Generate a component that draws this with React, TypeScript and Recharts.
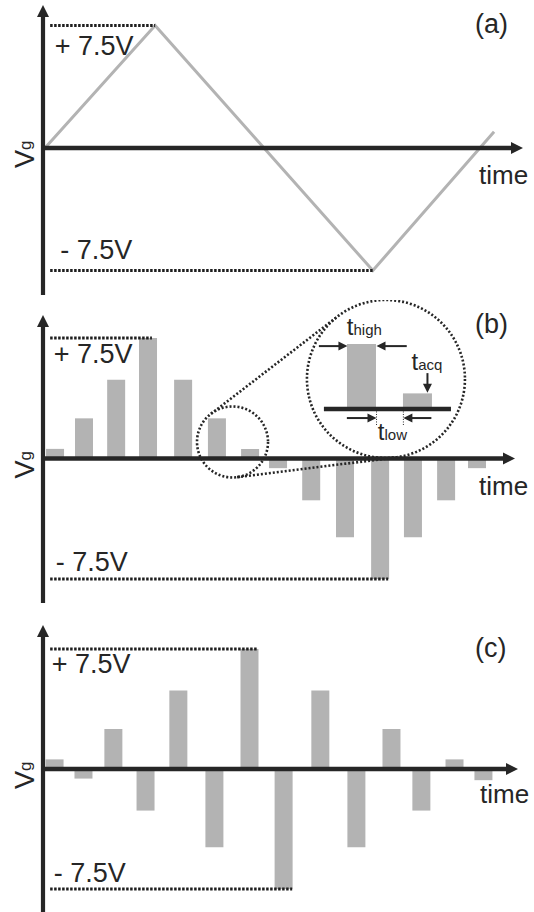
import React from "react";
import { ComposedChart, Line, Bar, XAxis, YAxis, ReferenceLine, ReferenceDot, Label } from "recharts";

const INK = "#262626";
const GREY = "#b3b3b3";
const FONT = "'Liberation Sans', Arial, Helvetica, sans-serif";
const WIDTH = 534;

// sweep limits, volts
const V_MAX = 7.5;
const levelText = ["+ 7.5V", "- 7.5V"];
const panelTags = ["(a)", "(b)", "(c)"];
const timeText = "time";

// (a) triangular gate sweep, corner points (time in pulse periods)
const sweepTime = [0.06, 3.45, 10.15, 13.88];
const sweepVg = [0, 7.5, -7.5, 1.0];

// (b) pulsed sweep that follows the triangle
const pulseTimeB = [0.37, 1.26, 2.25, 3.23, 4.31, 5.35, 6.37, 7.23, 8.25, 9.29, 10.37, 11.38, 12.4, 13.35];
const pulseVgB = [0.6, 2.5, 4.9, 7.5, 4.9, 2.5, 0.6, -0.6, -2.6, -4.9, -7.5, -4.9, -2.6, -0.6];

// (c) pulses of alternating sign
const pulseTimeC = [0.37, 1.26, 2.18, 3.17, 4.18, 5.29, 6.37, 7.42, 8.55, 9.66, 10.74, 11.66, 12.68, 13.57];
const pulseVgC = [0.6, -0.6, 2.5, -2.6, 4.9, -4.9, 7.5, -7.5, 4.9, -4.9, 2.5, -2.6, 0.6, -0.7];

// magnified pair of pulses from (b)
const detailTime = [1, 2];
const detailVg = [pulseVgB[5], pulseVgB[6]];
const detailSub = ["high", "acq", "low"];

const dotted = { stroke: "#1e1e1e", strokeWidth: 3, strokeDasharray: "2.5 1.5" };
const ring = { stroke: INK, strokeWidth: 2.6, strokeDasharray: "2 2" };

// thick axis line with a filled arrow head at its far end
function axisShape(props: any) {
  const x1 = Number(props.x1), y1 = Number(props.y1), x2 = Number(props.x2), y2 = Number(props.y2);
  const head = 12;
  const half = 6;
  if (Math.abs(x1 - x2) < 1) {
    const top = Math.min(y1, y2);
    const bottom = Math.max(y1, y2);
    return (
      <g>
        <line x1={x1} x2={x1} y1={top + head - 1} y2={bottom} stroke={INK} strokeWidth={4.2} />
        <polygon points={`${x1},${top} ${x1 - half},${top + head} ${x1 + half},${top + head}`} fill={INK} />
      </g>
    );
  }
  const left = Math.min(x1, x2);
  const right = Math.max(x1, x2);
  return (
    <g>
      <line x1={left} x2={right - head + 1} y1={y1} y2={y1} stroke={INK} strokeWidth={4.5} />
      <polygon points={`${right},${y1} ${right - head},${y1 - half} ${right - head},${y1 + half}`} fill={INK} />
    </g>
  );
}

// thin pointer, head at the second point of the segment
function pointerShape(props: any) {
  const x1 = Number(props.x1), y1 = Number(props.y1), x2 = Number(props.x2), y2 = Number(props.y2);
  const len = Math.hypot(x2 - x1, y2 - y1) || 1;
  const ux = (x2 - x1) / len;
  const uy = (y2 - y1) / len;
  const head = 9;
  const half = 4.5;
  const bx = x2 - ux * head;
  const by = y2 - uy * head;
  return (
    <g>
      <line x1={x1} y1={y1} x2={bx + ux} y2={by + uy} stroke={INK} strokeWidth={2} />
      <polygon
        points={`${x2},${y2} ${bx - uy * half},${by + ux * half} ${bx + uy * half},${by - ux * half}`}
        fill={INK}
      />
    </g>
  );
}

const textAt = (text: string, dx: number, dy: number, size = 27) => (p: any) => {
  const vb = p.viewBox || { x: 0, y: 0 };
  return (
    <text x={vb.x + dx} y={vb.y + dy} fontSize={size} fill={INK} fontFamily={FONT}>
      {text}
    </text>
  );
};

const rightTextAt = (text: string, dx: number, dy: number, size = 27) => (p: any) => {
  const vb = p.viewBox || { x: 0, y: 0, width: 0 };
  return (
    <text x={vb.x + vb.width + dx} y={vb.y + dy} fontSize={size} fill={INK} fontFamily={FONT}>
      {text}
    </text>
  );
};

const vgAt = (dx: number, dy: number) => (p: any) => {
  const vb = p.viewBox || { x: 0, y: 0 };
  return (
    <text transform={`translate(${vb.x + dx},${vb.y + dy}) rotate(-90)`} fontSize={27} fill={INK} fontFamily={FONT}>
      V<tspan fontSize={17} dy={-3}>g</tspan>
    </text>
  );
};

const subAt = (sub: string, dx: number, dy: number) => (p: any) => {
  const vb = p.viewBox || { x: 0, y: 0 };
  return (
    <text x={vb.x + dx} y={vb.y + dy} fill={INK} fontFamily={FONT} fontSize={24}>
      t<tspan fontSize={15}>{sub}</tspan>
    </text>
  );
};

type PanelProps = {
  height: number;
  margin: { top: number; right: number; bottom: number; left: number };
  xMax: number;
  yDomain: [number, number];
  data: { t: number; vg: number }[];
  levelEnd: [number, number];
  plusAt: [number, number];
  minusAt: [number, number];
  timeAt: [number, number];
  tag: string;
  tagAt: [number, number];
  children?: React.ReactNode;
};

function Panel(p: PanelProps) {
  return (
    <ComposedChart width={WIDTH} height={p.height} data={p.data} margin={p.margin}>
      <XAxis type="number" dataKey="t" domain={[0, p.xMax]} hide allowDataOverflow />
      <YAxis type="number" domain={p.yDomain} hide allowDataOverflow />
      {p.children}
      <ReferenceLine
        segment={[{ x: 0.22, y: V_MAX }, { x: p.levelEnd[0], y: V_MAX }]}
        {...dotted}
        label={textAt(levelText[0], p.plusAt[0], p.plusAt[1])}
      />
      <ReferenceLine
        segment={[{ x: 0.22, y: -V_MAX }, { x: p.levelEnd[1], y: -V_MAX }]}
        {...dotted}
        label={textAt(levelText[1], p.minusAt[0], p.minusAt[1])}
      />
      <ReferenceLine x={0} shape={axisShape} />
      <ReferenceLine y={0} shape={axisShape}>
        <Label content={rightTextAt(timeText, p.timeAt[0], p.timeAt[1], 26)} />
        <Label content={rightTextAt(p.tag, p.tagAt[0], p.tagAt[1])} />
        <Label content={vgAt(-9, 20)} />
      </ReferenceLine>
    </ComposedChart>
  );
}

function SweepPanel() {
  const data = sweepTime.map((t, i) => ({ t, vg: sweepVg[i] }));
  return (
    <Panel
      height={300}
      margin={{ top: 5, right: 11, bottom: 5, left: 43 }}
      xMax={14.77}
      yDomain={[-9.0, 8.76]}
      data={data}
      levelEnd={[sweepTime[1], sweepTime[2]]}
      plusAt={[4.5, 29]}
      minusAt={[10, -12]}
      timeAt={[-44, 36]}
      tag={panelTags[0]}
      tagAt={[-48, -115]}
    >
      <Line type="linear" dataKey="vg" stroke={GREY} strokeWidth={3} dot={false} activeDot={false} isAnimationActive={false} />
    </Panel>
  );
}

function PulsePanelB() {
  const data = pulseTimeB.map((t, i) => ({ t, vg: pulseVgB[i] }));
  return (
    <Panel
      height={310}
      margin={{ top: 15, right: 19, bottom: 7, left: 43 }}
      xMax={14.52}
      yDomain={[-8.99, 8.93]}
      data={data}
      levelEnd={[3.35, 10.62]}
      plusAt={[3.5, 25]}
      minusAt={[5.5, -8]}
      timeAt={[-36, 36]}
      tag={panelTags[1]}
      tagAt={[-40, -126]}
    >
      <Bar dataKey="vg" fill={GREY} barSize={18} isAnimationActive={false} />
      {/* magnifier: small ring round two pulses, large ring holding the detail */}
      <ReferenceDot x={5.83} y={1.03} r={35.5} ifOverflow="visible"
        shape={(s: any) => <circle cx={s.cx} cy={s.cy} r={35.5} fill="none" {...ring} />} />
      <ReferenceDot x={10.55} y={4.95} r={79} ifOverflow="visible"
        shape={(s: any) => <circle cx={s.cx} cy={s.cy} r={79} fill="none" {...ring} />} />
      <ReferenceLine segment={[{ x: 5.17, y: 2.78 }, { x: 9.07, y: 8.85 }]} ifOverflow="visible" {...ring} />
      <ReferenceLine segment={[{ x: 5.97, y: -1.16 }, { x: 10.86, y: 0.07 }]} ifOverflow="visible" {...ring} />
    </Panel>
  );
}

function PulsePanelC() {
  const data = pulseTimeC.map((t, i) => ({ t, vg: pulseVgC[i] }));
  return (
    <Panel
      height={302}
      margin={{ top: 15, right: 16, bottom: 0, left: 43 }}
      xMax={14.62}
      yDomain={[-8.94, 9.0]}
      data={data}
      levelEnd={[6.62, 7.67]}
      plusAt={[1.5, 24]}
      minusAt={[3.5, -7]}
      timeAt={[-38, 34]}
      tag={panelTags[2]}
      tagAt={[-43, -112]}
    >
      <Bar dataKey="vg" fill={GREY} barSize={18} isAnimationActive={false} />
    </Panel>
  );
}

// enlarged view: pulse width t_high, gap t_low, acquisition time t_acq
function Detail() {
  const data = detailTime.map((t, i) => ({ t, vg: detailVg[i] }));
  return (
    <ComposedChart width={150} height={150} data={data} margin={{ top: 10, right: 0, bottom: 0, left: 0 }}>
      <XAxis type="number" dataKey="t" domain={[0, 2.68]} hide allowDataOverflow />
      <YAxis type="number" domain={[-1.58, 3.81]} hide allowDataOverflow />
      <Bar dataKey="vg" fill={GREY} barSize={29} isAnimationActive={false} />
      <ReferenceLine segment={[{ x: 0.32, y: 0 }, { x: 2.59, y: 0 }]} stroke={INK} strokeWidth={4.5} />
      <ReferenceLine segment={[{ x: 0.23, y: 2.42 }, { x: 0.74, y: 2.42 }]} shape={pointerShape}
        label={subAt(detailSub[0], 28, -11)} />
      <ReferenceLine segment={[{ x: 1.8, y: 2.42 }, { x: 1.26, y: 2.42 }]} shape={pointerShape} />
      <ReferenceLine segment={[{ x: 2.17, y: 1.38 }, { x: 2.17, y: 0.62 }]} shape={pointerShape}
        label={subAt(detailSub[1], -16, -3)} />
      <ReferenceLine segment={[{ x: 0.73, y: -0.35 }, { x: 1.26, y: -0.35 }]} shape={pointerShape}
        label={subAt(detailSub[2], 31, 22)} />
      <ReferenceLine segment={[{ x: 2.24, y: -0.35 }, { x: 1.74, y: -0.35 }]} shape={pointerShape} />
      <ReferenceLine segment={[{ x: 1.26, y: 0 }, { x: 1.26, y: -0.62 }]} stroke={INK} strokeWidth={1} strokeDasharray="1 1.5" />
      <ReferenceLine segment={[{ x: 1.74, y: 0 }, { x: 1.74, y: -0.62 }]} stroke={INK} strokeWidth={1} strokeDasharray="1 1.5" />
    </ComposedChart>
  );
}

export default function App() {
  return (
    <div style={{ position: "absolute", left: 0, top: 0, width: WIDTH, height: 912, background: "#fff", overflow: "hidden", fontFamily: FONT }}>
      <div style={{ position: "absolute", left: 0, top: 0 }}>
        <SweepPanel />
      </div>
      <div style={{ position: "absolute", left: 0, top: 300 }}>
        <PulsePanelB />
      </div>
      <div style={{ position: "absolute", left: 306, top: 300 }}>
        <Detail />
      </div>
      <div style={{ position: "absolute", left: 0, top: 610 }}>
        <PulsePanelC />
      </div>
    </div>
  );
}
